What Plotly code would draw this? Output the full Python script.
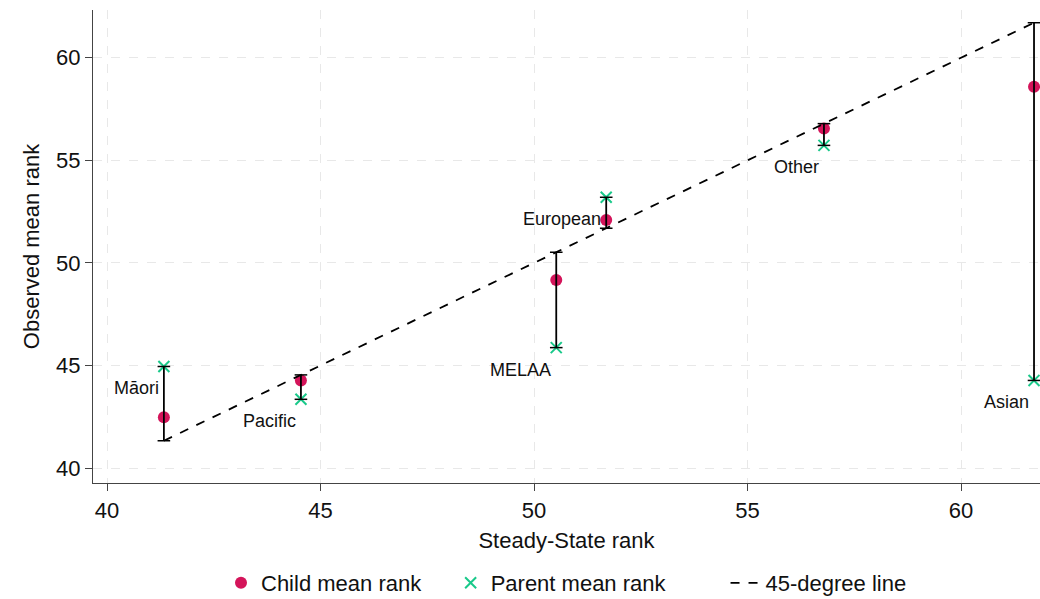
import plotly.graph_objects as go

groups = ["Māori", "Pacific", "MELAA", "European", "Other", "Asian"]
steady_state = [41.33, 44.54, 50.52, 51.69, 56.79, 61.71]
child_rank = [42.48, 44.27, 49.17, 52.09, 56.55, 58.59]
parent_rank = [44.95, 43.35, 45.87, 53.20, 55.73, 44.27]

x_ticks = [40, 45, 50, 55, 60]
y_ticks = [40, 45, 50, 55, 60]

RED = "#D4145A"
GREEN = "#19C98A"
FONT = "Liberation Sans, Arial, sans-serif"
NB = "\u00a0"

fig = go.Figure()

fig.add_trace(go.Scatter(
    x=steady_state, y=child_rank, mode="markers", name="Child mean rank" + NB * 4,
    marker=dict(color=RED, size=12, symbol="circle"),
))
fig.add_trace(go.Scatter(
    x=steady_state, y=parent_rank, mode="markers", name="Parent mean rank" + NB * 9,
    marker=dict(color=GREEN, size=11, symbol="x-thin", line=dict(color=GREEN, width=2)),
))
lo, hi = min(steady_state), max(steady_state)
fig.add_trace(go.Scatter(
    x=[lo, hi], y=[lo, hi], mode="lines", name="45-degree line",
    line=dict(color="black", width=1.8, dash="dash"),
))

for ss, c, p in zip(steady_state, child_rank, parent_rank):
    vals = [ss, c, p]
    fig.add_trace(go.Scatter(
        x=[ss, ss], y=[min(vals), max(vals)], mode="lines+markers",
        line=dict(color="black", width=1.8),
        marker=dict(symbol="line-ew", size=9, line=dict(color="black", width=1.5)),
        showlegend=False, hoverinfo="skip",
    ))

for g, ss, p in zip(groups, steady_state, parent_rank):
    fig.add_annotation(
        x=ss, y=p, text=g, showarrow=False, xanchor="right", yanchor="middle",
        xshift=-3, yshift=-22, font=dict(family=FONT, size=18, color="#111"),
    )

fig.update_layout(
    width=1040, height=599,
    margin=dict(l=93, r=0, t=10, b=116, autoexpand=False),
    plot_bgcolor="white", paper_bgcolor="white",
    font=dict(family=FONT, size=22, color="#111"),
    legend=dict(orientation="h", x=0.5, xanchor="center", xref="paper",
                y=16/599, yanchor="middle", yref="container",
                font=dict(family=FONT, size=22, color="#111"), itemwidth=30,
                tracegroupgap=0),
)
fig.update_xaxes(
    range=[39.67, 61.85], tickvals=x_ticks, showline=True, linecolor="#444", linewidth=1.2,
    ticks="outside", ticklen=7, tickcolor="#444", showgrid=True, gridcolor="#e8e8e8",
    griddash="dash", gridwidth=1.2, zeroline=False,
    title=dict(text="Steady-State rank", standoff=11, font=dict(size=22)),
    tickfont=dict(size=22),
)
fig.update_yaxes(
    range=[39.27, 62.33], tickvals=y_ticks, showline=True, linecolor="#444", linewidth=1.2,
    ticks="outside", ticklen=7, tickcolor="#444", showgrid=True, gridcolor="#e8e8e8",
    griddash="dash", gridwidth=1.2, zeroline=False,
    title=dict(text="Observed mean rank", standoff=10, font=dict(size=22)),
    tickfont=dict(size=22),
)

fig.write_html("out.html")
